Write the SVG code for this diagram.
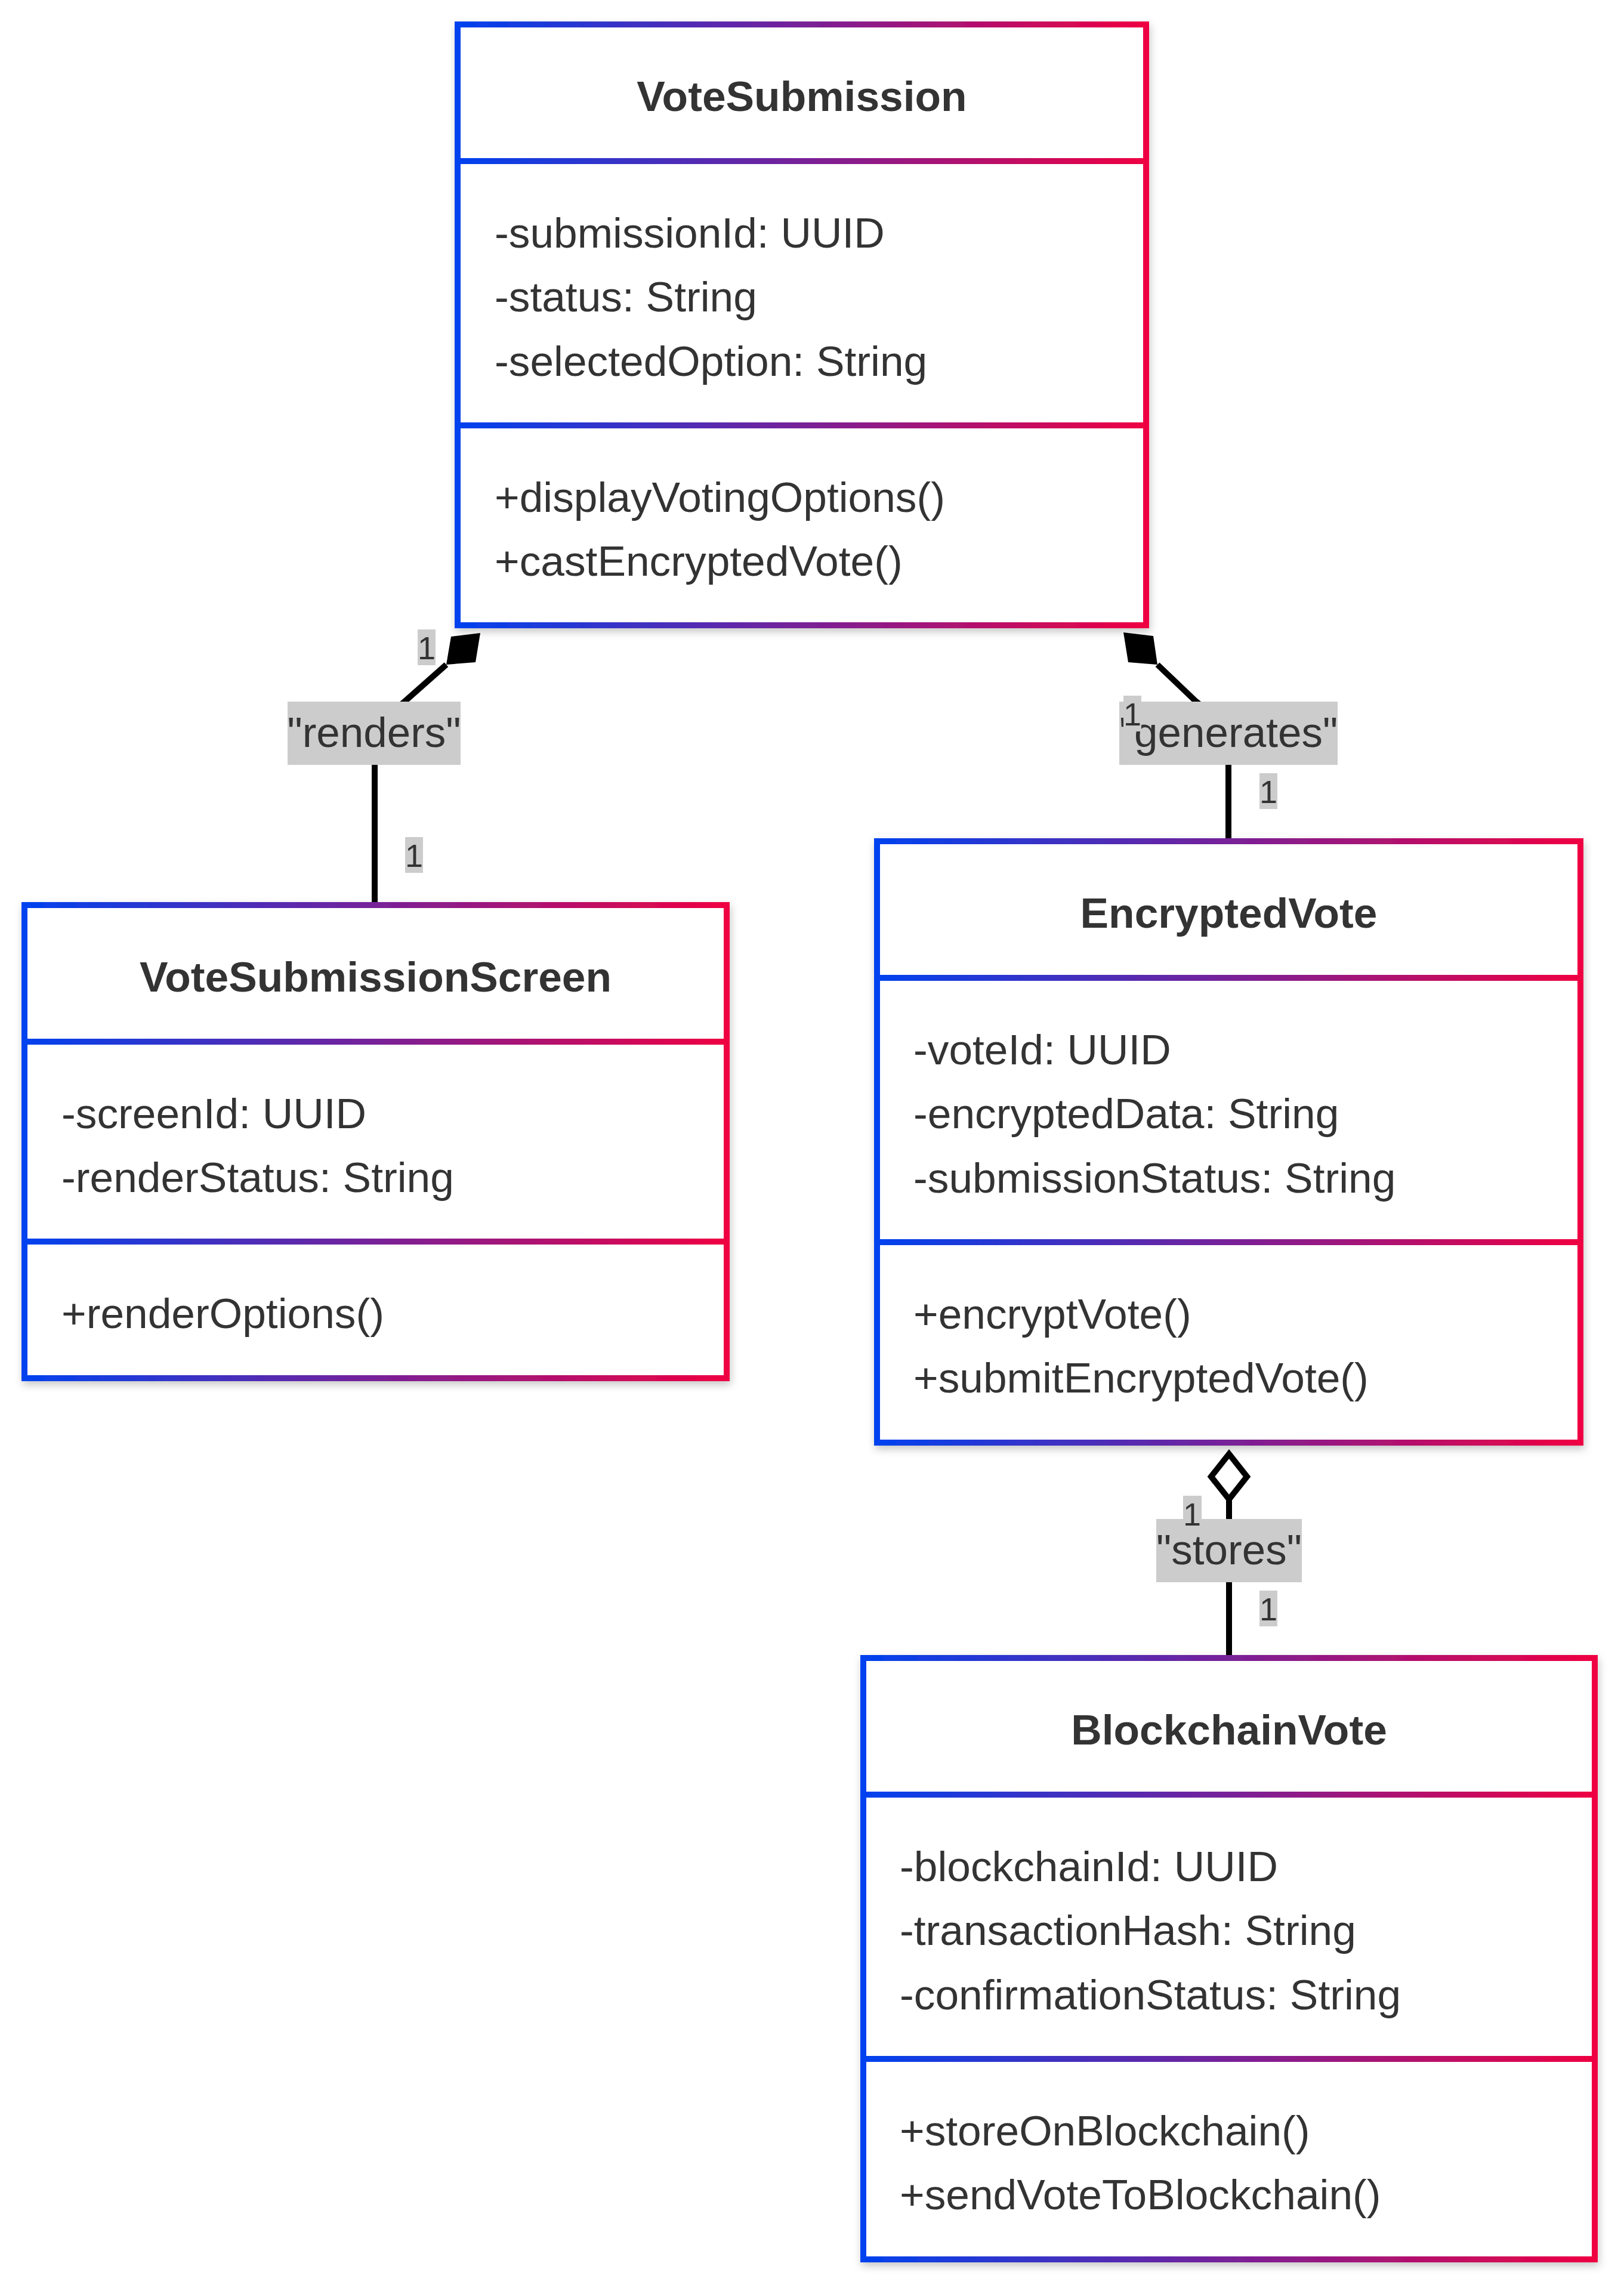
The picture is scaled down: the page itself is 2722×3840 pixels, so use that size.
<svg xmlns="http://www.w3.org/2000/svg" width="2722" height="3840" viewBox="0 0 2722 3840">
<defs>
<linearGradient id="g" x1="0" y1="0" x2="1" y2="0">
<stop offset="0" stop-color="#0042ef"/>
<stop offset="1" stop-color="#ef0042"/>
</linearGradient>
<filter id="sh" x="-5%" y="-5%" width="110%" height="110%">
<feDropShadow dx="2" dy="6" stdDeviation="7" flood-color="#000" flood-opacity="0.22"/>
</filter>
<style>
.box{fill:#fff;stroke:url(#g);stroke-width:10}
.div{fill:url(#g)}
.t{font-family:'Liberation Sans',Arial,sans-serif;font-size:71.3px;fill:#333}
.tb{font-weight:bold;text-anchor:middle}
.edge{fill:none;stroke:#000;stroke-width:10}
.lbl{fill:#ccc}
.lt{font-family:'Liberation Sans',Arial,sans-serif;font-size:71px;fill:#333;text-anchor:middle}
.ct{font-family:'Liberation Sans',Arial,sans-serif;font-size:54px;fill:#333;text-anchor:middle}
</style>
</defs>
<rect width="2722" height="3840" fill="#fff"/>

<g id="VoteSubmission">
<rect class="box" x="767" y="41" width="1154" height="1007" filter="url(#sh)"/>
<rect class="div" x="767" y="265" width="1154" height="10"/>
<rect class="div" x="767" y="708" width="1154" height="10"/>
<text class="t tb" x="1344" y="186">VoteSubmission</text>
<text class="t" x="829" y="415">-submissionId: UUID</text>
<text class="t" x="829" y="522">-status: String</text>
<text class="t" x="829" y="630">-selectedOption: String</text>
<text class="t" x="829" y="858">+displayVotingOptions()</text>
<text class="t" x="829" y="965">+castEncryptedVote()</text>
</g>

<g id="VoteSubmissionScreen">
<rect class="box" x="41" y="1517" width="1177" height="793" filter="url(#sh)"/>
<rect class="div" x="41" y="1741" width="1177" height="10"/>
<rect class="div" x="41" y="2076" width="1177" height="10"/>
<text class="t tb" x="629.5" y="1662">VoteSubmissionScreen</text>
<text class="t" x="103" y="1891">-screenId: UUID</text>
<text class="t" x="103" y="1998">-renderStatus: String</text>
<text class="t" x="103" y="2226">+renderOptions()</text>
</g>

<g id="EncryptedVote">
<rect class="box" x="1470" y="1410" width="1179" height="1008" filter="url(#sh)"/>
<rect class="div" x="1470" y="1634" width="1179" height="10"/>
<rect class="div" x="1470" y="2077" width="1179" height="10"/>
<text class="t tb" x="2059.5" y="1555">EncryptedVote</text>
<text class="t" x="1531" y="1784">-voteId: UUID</text>
<text class="t" x="1531" y="1891">-encryptedData: String</text>
<text class="t" x="1531" y="1999">-submissionStatus: String</text>
<text class="t" x="1531" y="2227">+encryptVote()</text>
<text class="t" x="1531" y="2334">+submitEncryptedVote()</text>
</g>

<g id="BlockchainVote">
<rect class="box" x="1447" y="2779" width="1226" height="1008" filter="url(#sh)"/>
<rect class="div" x="1447" y="3003" width="1226" height="10"/>
<rect class="div" x="1447" y="3446" width="1226" height="10"/>
<text class="t tb" x="2060" y="2924">BlockchainVote</text>
<text class="t" x="1508" y="3153">-blockchainId: UUID</text>
<text class="t" x="1508" y="3260">-transactionHash: String</text>
<text class="t" x="1508" y="3368">-confirmationStatus: String</text>
<text class="t" x="1508" y="3596">+storeOnBlockchain()</text>
<text class="t" x="1508" y="3703">+sendVoteToBlockchain()</text>
</g>

<g id="connectors">
<path class="edge" d="M748,1114 L678,1176 C650,1200 628,1215 628,1260 L628,1512"/>
<polygon points="805,1061 756,1067 748,1114 797,1110" fill="#000"/>
<path class="edge" d="M1940,1114 L2005,1176 C2035,1200 2059,1215 2059,1260 L2059,1405"/>
<polygon points="1883,1060 1933,1066 1940,1114 1891,1110" fill="#000"/>
<path class="edge" d="M2060,2513 L2060,2774"/>
<polygon points="2060,2437 2090,2475 2060,2513 2030,2475" fill="#fff" stroke="#000" stroke-width="10"/>

<rect class="lbl" x="482" y="1176" width="290" height="106"/>
<text class="lt" x="627" y="1252">"renders"</text>
<rect class="lbl" x="1876" y="1176" width="366" height="106"/>
<text class="lt" x="2059" y="1252">"generates"</text>
<rect class="lbl" x="1938" y="2546" width="244" height="106"/>
<text class="lt" x="2060" y="2622">"stores"</text>

<rect class="lbl" x="700" y="1055" width="30" height="60"/>
<text class="ct" x="715" y="1105">1</text>
<rect class="lbl" x="679" y="1403" width="30" height="60"/>
<text class="ct" x="694" y="1453">1</text>
<rect class="lbl" x="1883" y="1166" width="30" height="60"/>
<text class="ct" x="1898" y="1216">1</text>
<rect class="lbl" x="2111" y="1296" width="30" height="60"/>
<text class="ct" x="2126" y="1346">1</text>
<rect class="lbl" x="1983" y="2507" width="31" height="60"/>
<text class="ct" x="1998" y="2557">1</text>
<rect class="lbl" x="2111" y="2666" width="30" height="60"/>
<text class="ct" x="2126" y="2716">1</text>
</g>
</svg>
